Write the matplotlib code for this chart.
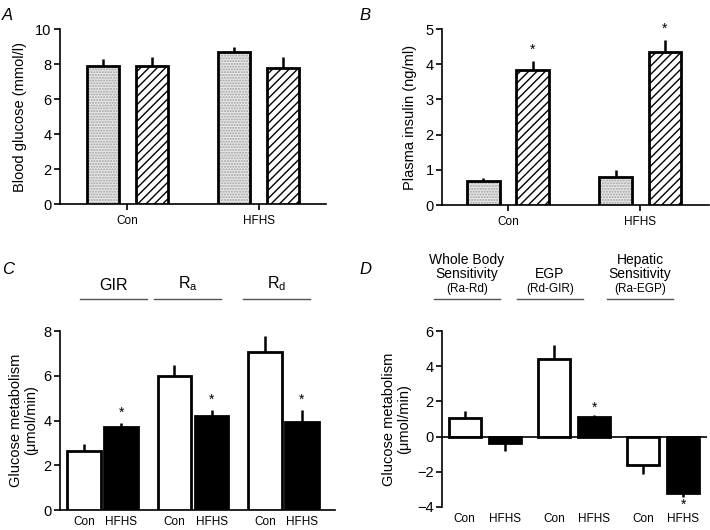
import matplotlib
matplotlib.use('Agg')
import matplotlib.pyplot as plt
import matplotlib.transforms as mtransforms
import numpy as np

plt.rcParams['font.family'] = ['Liberation Sans', 'DejaVu Sans']
plt.rcParams['hatch.linewidth'] = 1.0

# panel A / B data: two groups, two bars each (stippled, hatched)
ab_groups = ['Con', 'HFHS']
glucose_mean = [[7.9, 8.7], [7.9, 7.8]]      # [stippled, hatched] per group
glucose_err = [[0.4, 0.3], [0.5, 0.6]]
insulin_mean = [[0.68, 0.8], [3.85, 4.35]]
insulin_err = [[0.08, 0.2], [0.25, 0.35]]
insulin_star = [[False, False], [True, True]]

# panel C / D data: three measures, Con (white) and HFHS (black)
c_groups = ['GIR', 'R$_\\mathregular{a}$', 'R$_\\mathregular{d}$']
c_con = [2.65, 6.0, 7.05]
c_con_err = [0.3, 0.5, 0.75]
c_hfhs = [3.7, 4.2, 3.95]
c_hfhs_err = [0.2, 0.25, 0.5]
c_star = [True, True, True]

d_groups = ['Whole Body\nSensitivity', 'EGP', 'Hepatic\nSensitivity']
d_sub = ['(Ra-Rd)', '(Rd-GIR)', '(Ra-EGP)']
d_con = [1.05, 4.4, -1.6]
d_con_err = [0.4, 0.8, 0.55]
d_hfhs = [-0.35, 1.1, -3.2]
d_hfhs_err = [0.45, 0.1, 0.25]
d_star = [False, True, True]

fig = plt.figure(figsize=(7.1, 5.3), dpi=100)


def style_axes(ax):
    for s in ['top', 'right']:
        ax.spines[s].set_visible(False)
    for s in ['left', 'bottom']:
        ax.spines[s].set_linewidth(1.2)
    ax.tick_params(axis='y', direction='out', length=4, width=1.2, labelsize=10.5, pad=2)


def bars(ax, x, vals, errs, width, **kw):
    vals = np.asarray(vals)
    errs = np.asarray(errs)
    ax.bar(x, vals, width, edgecolor='black', linewidth=2, zorder=3, **kw)
    up = np.where(vals >= 0, errs, 0)
    dn = np.where(vals < 0, errs, 0)
    ax.errorbar(x, vals, yerr=[dn, up], fmt='none', ecolor='black',
                elinewidth=1.8, capsize=0, zorder=2)


def stars(ax, x, vals, errs, flags, off):
    for xi, v, e, f in zip(x, vals, errs, flags):
        if not f:
            continue
        if v >= 0:
            ax.text(xi, v + e + off, '*', ha='center', va='bottom', fontsize=10)
        else:
            ax.text(xi, v - e - off, '*', ha='center', va='top', fontsize=10)


# ---------------- A ----------------
axA = fig.add_axes([0.0845, 0.615, 0.3746, 0.330])
style_axes(axA)
xg = np.arange(len(ab_groups))
off = 0.186
w = 0.245
axA.bar(xg - off, glucose_mean[0], w, color='#e8e8e8', hatch='......',
        edgecolor='#a0a0a0', linewidth=0, zorder=3)
bars(axA, xg - off, glucose_mean[0], glucose_err[0], w, facecolor='none')
bars(axA, xg + off, glucose_mean[1], glucose_err[1], w, facecolor='white', hatch='////')
axA.set_xlim(-0.51, 1.51)
axA.set_ylim(0, 10)
axA.set_yticks([0, 2, 4, 6, 8, 10])
axA.set_xticks(xg)
axA.set_xticklabels(ab_groups, fontsize=8.5)
axA.tick_params(axis='x', direction='out', length=4, width=1.2, pad=4)
axA.set_ylabel('Blood glucose (mmol/l)', fontsize=10.5, labelpad=6)
fig.text(0.003, 0.985, 'A', fontsize=12, style='italic', va='top')

# ---------------- B ----------------
axB = fig.add_axes([0.6225, 0.6132, 0.376, 0.332])
style_axes(axB)
axB.bar(xg - off, insulin_mean[0], w, color='#e8e8e8', hatch='......',
        edgecolor='#a0a0a0', linewidth=0, zorder=3)
bars(axB, xg - off, insulin_mean[0], insulin_err[0], w, facecolor='none')
bars(axB, xg + off, insulin_mean[1], insulin_err[1], w, facecolor='white', hatch='////')
stars(axB, xg + off, insulin_mean[1], insulin_err[1], insulin_star[1], 0.1)
axB.set_xlim(-0.5, 1.52)
axB.set_ylim(0, 5)
axB.set_yticks([0, 1, 2, 3, 4, 5])
axB.set_xticks(xg)
axB.set_xticklabels(ab_groups, fontsize=8.5)
axB.tick_params(axis='x', direction='out', length=4, width=1.2, pad=4)
axB.set_ylabel('Plasma insulin (ng/ml)', fontsize=10.5, labelpad=6)
fig.text(0.507, 0.985, 'B', fontsize=12, style='italic', va='top')

# ---------------- C ----------------
axC = fig.add_axes([0.0845, 0.0377, 0.3873, 0.3377])
style_axes(axC)
xc = np.arange(len(c_groups))
o2 = 0.205
w2 = 0.37
bars(axC, xc - o2, c_con, c_con_err, w2, facecolor='white')
bars(axC, xc + o2, c_hfhs, c_hfhs_err, w2, facecolor='black')
stars(axC, xc + o2, c_hfhs, c_hfhs_err, c_star, 0.15)
axC.set_xlim(-0.47, 2.57)
axC.set_ylim(0, 8)
axC.set_yticks([0, 2, 4, 6, 8])
axC.set_xticks(np.concatenate([xc - o2, xc + o2]))
axC.set_xticklabels(['Con'] * 3 + ['HFHS'] * 3, fontsize=8.5)
axC.tick_params(axis='x', length=0, pad=4)
axC.set_ylabel('Glucose metabolism\n(\u03bcmol/min)', fontsize=10.5, labelpad=4, linespacing=1.1)
tC = mtransforms.blended_transform_factory(axC.transData, fig.transFigure)
c_shift = [0.12, -0.06, -0.08]
for xi, g, sh in zip(xc, c_groups, c_shift):
    axC.plot([xi + sh - 0.37, xi + sh + 0.37], [0.436, 0.436], color='#555555', lw=1,
             transform=tC, clip_on=False)
    axC.text(xi + sh, 0.447, g, ha='center', va='bottom', fontsize=11.5, transform=tC)
fig.text(0.003, 0.505, 'C', fontsize=12, style='italic', va='top')

# ---------------- D ----------------
axD = fig.add_axes([0.6225, 0.0434, 0.3732, 0.332])
style_axes(axD)
xd = np.arange(len(d_groups))
o3 = 0.225
w3 = 0.36
bars(axD, xd - o3, d_con, d_con_err, w3, facecolor='white')
bars(axD, xd + o3, d_hfhs, d_hfhs_err, w3, facecolor='black')
stars(axD, xd + o3, d_hfhs, d_hfhs_err, d_star, 0.05)
axD.set_xlim(-0.48, 2.49)
axD.set_ylim(-4, 6)
axD.set_yticks([-4, -2, 0, 2, 4, 6])
axD.set_yticklabels(['\u22124', '\u22122', '0', '2', '4', '6'])
axD.spines['bottom'].set_visible(False)
axD.axhline(0, color='black', lw=1.2, zorder=4)
axD.set_xticks(np.concatenate([xd - o3, xd + o3]))
axD.set_xticklabels(['Con'] * 3 + ['HFHS'] * 3, fontsize=8.5)
axD.tick_params(axis='x', length=0, pad=4)
axD.set_ylabel('Glucose metabolism\n(\u03bcmol/min)', fontsize=10.5, labelpad=4, linespacing=1.1)
tD = mtransforms.blended_transform_factory(axD.transData, fig.transFigure)
d_shift = [-0.2, -0.27, -0.26]
for xi, g, s, sh in zip(xd, d_groups, d_sub, d_shift):
    axD.plot([xi + sh - 0.37, xi + sh + 0.37], [0.436, 0.436], color='#555555', lw=1,
             transform=tD, clip_on=False)
    axD.text(xi + sh, 0.444, s, ha='center', va='bottom', fontsize=8.5, transform=tD)
    axD.text(xi + sh, 0.469, g, ha='center', va='bottom', fontsize=10,
             linespacing=1.05, transform=tD)
fig.text(0.507, 0.505, 'D', fontsize=12, style='italic', va='top')

fig.savefig('out.png', dpi=100)
